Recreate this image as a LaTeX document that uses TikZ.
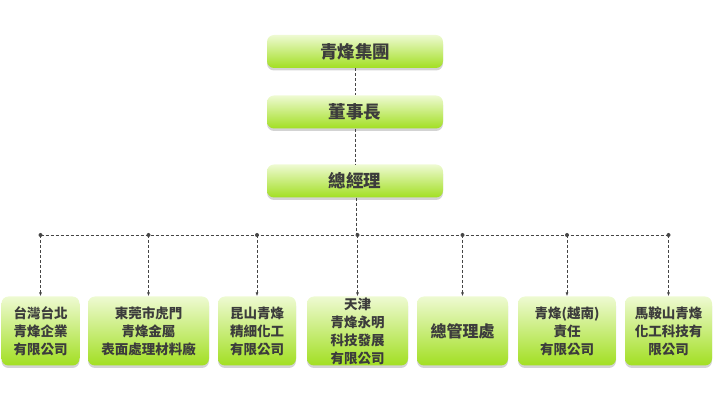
\documentclass[tikz,border=0pt]{standalone}
\usepackage{fontspec}
\newfontfamily\cjk{Noto Sans CJK TC}
\usetikzlibrary{arrows.meta,shadows}
\definecolor{boxtop}{HTML}{EEFAD2}
\definecolor{boxbot}{HTML}{A2DF22}
\definecolor{txt}{HTML}{3C3C3C}
\definecolor{lnk}{HTML}{454545}
\begin{document}
\begin{tikzpicture}[x=1pt,y=-1pt,
  box/.style={shade,top color=boxtop,bottom color=boxbot,rounded corners=7pt,
    drop shadow={shadow xshift=0pt,shadow yshift=-2.5pt,opacity=0.35,fill=gray},
    text=txt,align=center,inner sep=0pt},
  head/.style={box,minimum width=176pt,minimum height=33pt,
    font=\fontsize{17.5}{20}\selectfont\cjk\bfseries},
  unit/.style={box,minimum height=69pt,
    font=\fontsize{13.5}{18}\selectfont\cjk\bfseries},
  link/.style={densely dashed,draw=lnk,line width=0.7pt}]
  \useasboundingbox (0,0) rectangle (716,403);

  % top chain
  \node[head] (grp) at (355,51.5) {青烽集團};
  \node[head] (dsz) at (355,112) {董事長};
  \node[head] (zjl) at (355,181) {總經理};

  % units
  \node[unit,minimum width=78pt]  (u1) at (40.5,331) {台灣台北\\青烽企業\\有限公司};
  \node[unit,minimum width=121pt] (u2) at (148.5,331) {東莞市虎門\\青烽金屬\\表面處理材料廠};
  \node[unit,minimum width=78pt]  (u3) at (257,331) {昆山青烽\\精細化工\\有限公司};
  \node[unit,minimum width=101pt] (u4) at (357.5,331) {天津\\青烽永明\\科技發展\\有限公司};
  \node[unit,minimum width=91pt,font=\fontsize{16}{18}\selectfont\cjk\bfseries] (u5) at (462.5,331) {總管理處};
  \node[unit,minimum width=98pt]  (u6) at (567,331) {青烽(越南)\\責任\\有限公司};
  \node[unit,minimum width=87pt]  (u7) at (668.5,331) {馬鞍山青烽\\化工科技有\\限公司};

  \coordinate (bus) at (356,235);

  \draw[link] (grp) -- (dsz);
  \draw[link] (dsz) -- (zjl);
  \draw[link] (zjl.south -| bus) -- (bus);
  \draw[link] (u1 |- bus) -- (u7 |- bus);
  \foreach \n in {u1,u2,u3,u4,u5,u6,u7} {
    \fill[lnk] (\n |- bus) circle (2pt);
    \draw[link,-{Latex[length=4pt,width=3pt]}] (\n |- bus) -- (\n.north);
  }
\end{tikzpicture}
\end{document}
